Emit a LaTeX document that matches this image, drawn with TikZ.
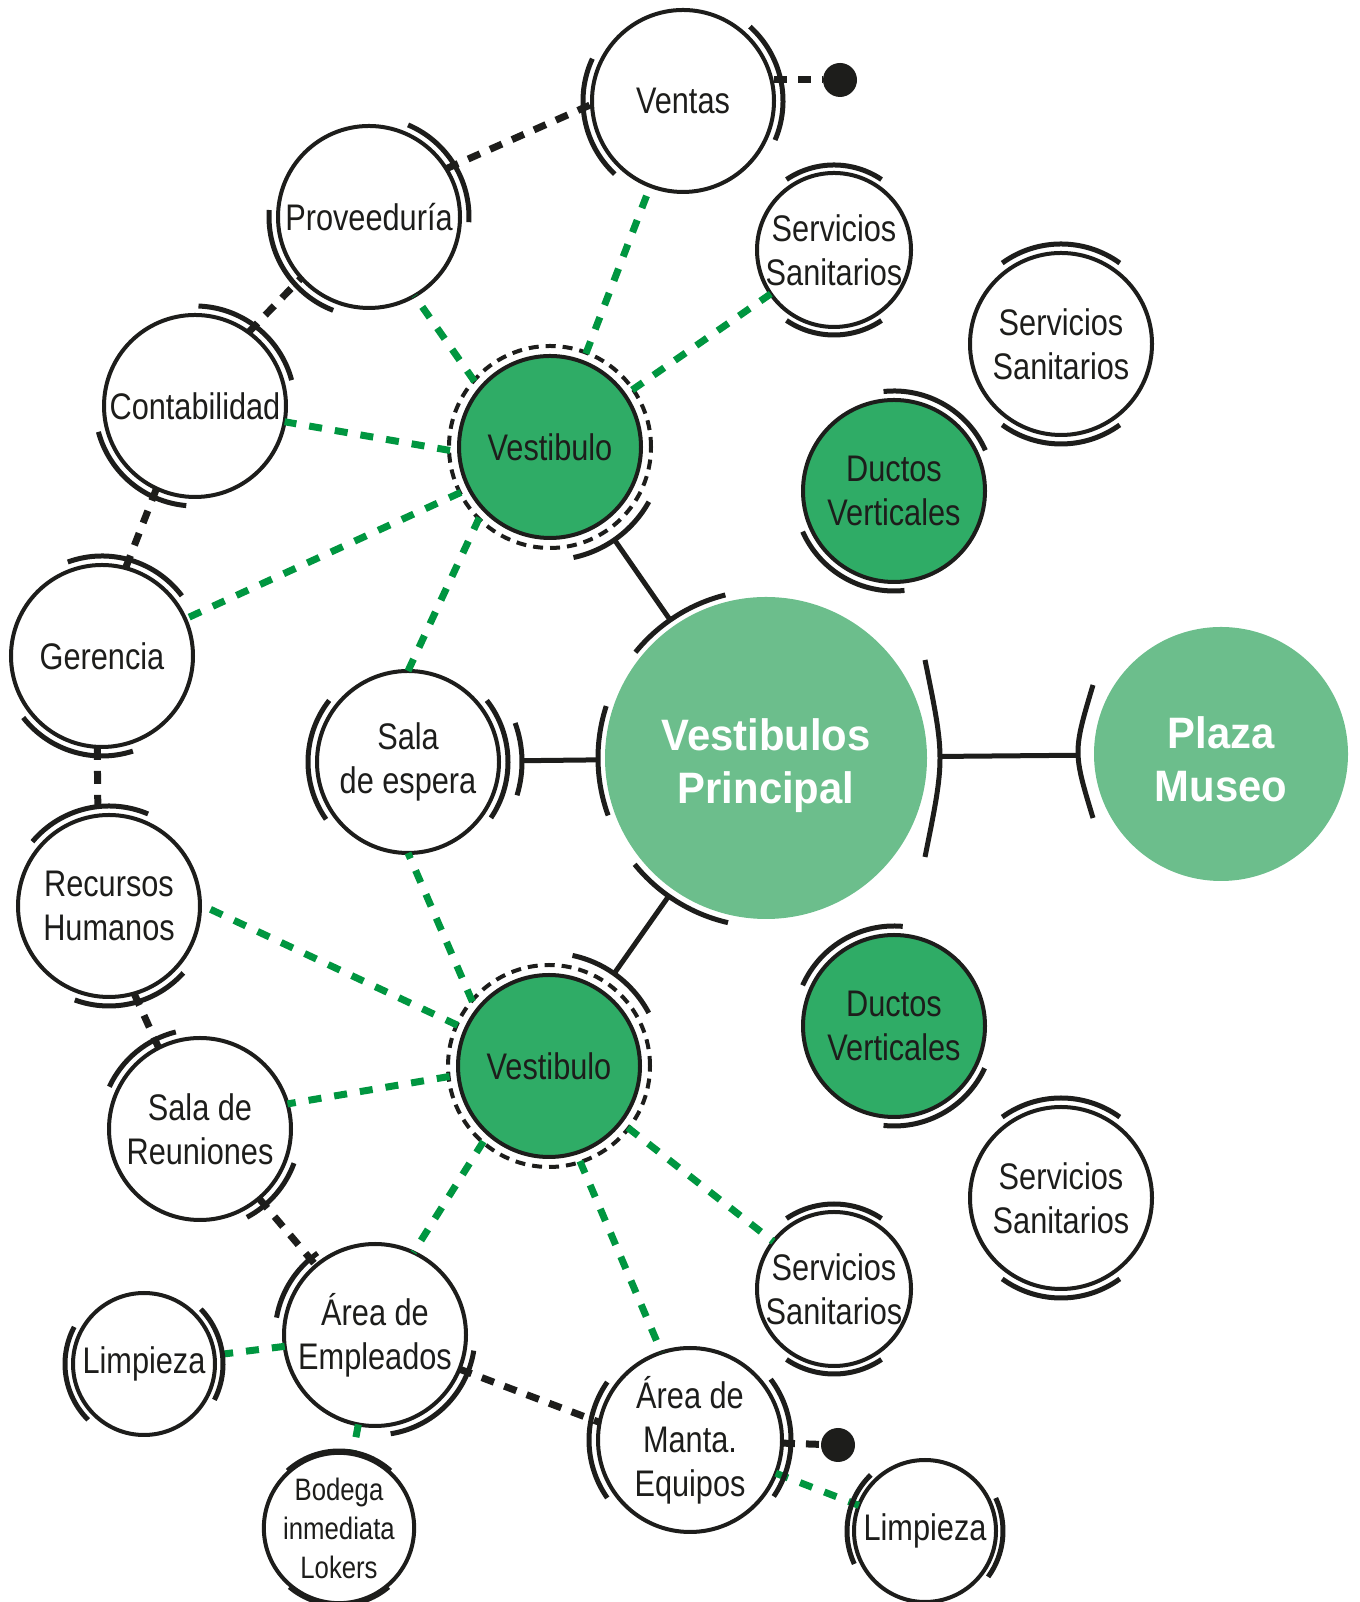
\documentclass[tikz,border=0pt]{standalone}
\usepackage{fontspec}
\setmainfont{Liberation Sans}[FakeStretch=0.83]
\newfontfamily\titfont{Liberation Sans}[FakeStretch=0.95]
\usetikzlibrary{arrows.meta}

\definecolor{linea}{HTML}{1D1D1B}
\definecolor{verdeosc}{HTML}{2FAC66}
\definecolor{verdecl}{HTML}{6CBE8C}
\definecolor{verdelin}{HTML}{009640}

% arc beside a room: node, radius, start angle, end angle
\newcommand{\doorarc}[4]{%
  \draw[door] (#1.center) ++(#3:#2) arc[start angle=#3, end angle=#4, radius=#2];}

\begin{document}
\begin{tikzpicture}[
    x=1pt, y=1pt,
    every node/.style={font=\fontsize{37}{44}\selectfont, text=linea, align=center},
    salon/.style={
        circle,
        draw=linea,
        line width=4pt,
        fill=white,
        minimum size=182pt,
        inner sep=0pt,
        outer sep=0pt
    },
    salonsm/.style={salon, minimum size=152pt},
    verde/.style={salon, fill=verdeosc},
    vestib/.style={salon, fill=verdeosc, outer sep=9pt},
    principal/.style={circle, fill=verdecl, inner sep=0pt, outer sep=0pt},
    titulo/.style={text=white, font=\titfont\bfseries\fontsize{44}{53}\selectfont},
    punto/.style={circle, fill=linea, minimum size=34pt, inner sep=0pt, outer sep=0pt},
    door/.style={draw=linea, line width=5pt},
    ring/.style={draw=linea, line width=4pt, dash pattern=on 10pt off 7pt},
    greenlink/.style={draw=verdelin, line width=7pt, dash pattern=on 13pt off 13pt},
    blacklink/.style={draw=linea, line width=7pt, dash pattern=on 13pt off 11pt},
    solidlink/.style={draw=linea, line width=5pt}
]
\useasboundingbox (0,0) rectangle (1359,1602);

% main halls
\node[principal, minimum size=322pt] (vprin) at (766,844) {};
\node[titulo] (vprintxt) at ([yshift=-8pt]vprin.center) {Vestibulos\\Principal};
\node[principal, minimum size=254pt] (plaza) at (1221,848) {};
\node[titulo] (plazatxt) at ([yshift=-5pt]plaza.center) {Plaza\\Museo};

\node[vestib] (vestA) at (550,1155) {Vestibulo};
\node[vestib] (vestB) at (549,536) {Vestibulo};
\draw[ring] (vestA.center) circle[radius=101];
\draw[ring] (vestB.center) circle[radius=101];

% rooms
\node[salon] (ventas) at (683,1501) {Ventas};
\node[salon] (prov) at (369,1385) {Proveeduría};
\node[salon] (conta) at (195,1196) {Contabilidad};
\node[salon] (geren) at (102,946) {Gerencia};
\node[salon] (rrhh) at (109,696) {Recursos\\Humanos};
\node[salon] (reun) at (200,473) {Sala de\\Reuniones};
\node[salon] (emple) at (375,267) {Área de\\Empleados};
\node[salon, minimum size=142pt] (limpA) at (144,238) {Limpieza};
\node[salon, minimum size=138pt, font=\fontsize{31}{39}\selectfont] (bodega) at (339,74) {Bodega\\inmediata\\Lokers};
\node[salon, minimum size=184pt] (manta) at (690,162) {Área de\\Manta.\\Equipos};
\node[salon, minimum size=142pt] (limpB) at (925,71) {Limpieza};
\node[salon] (espera) at (408,840) {Sala\\de espera};

\node[salonsm] (sanA) at (834,1352) {Servicios\\Sanitarios};
\node[salon] (sanB) at (1061,1258) {Servicios\\Sanitarios};
\node[salonsm] (sanC) at (834,313) {Servicios\\Sanitarios};
\node[salon] (sanD) at (1061,404) {Servicios\\Sanitarios};

\node[verde] (ductA) at (894,1111) {Ductos\\Verticales};
\node[verde] (ductB) at (894,576) {Ductos\\Verticales};

\node[punto] (dotA) at (840,1522) {};
\node[punto] (dotB) at (838,157) {};

% green links
\draw[greenlink] (vestA) -- (ventas);
\draw[greenlink] (vestA.139) -- (prov.300);
\draw[greenlink] (vestA) -- (sanA);
\draw[greenlink] (vestA.182) -- (conta.-10);
\draw[greenlink] (vestA.207) -- (geren.24);
\draw[greenlink] (vestA.225) -- (espera.north);
\draw[greenlink] (vestB.140) -- (espera.south);
\draw[greenlink] (vestB.156) -- (rrhh.1);
\draw[greenlink] (vestB.186) -- (reun.16);
\draw[greenlink] (vestB.229) -- (emple.65);
\draw[greenlink] (vestB.288) -- (manta.108);
\draw[greenlink] (vestB) -- (sanC);
\draw[greenlink] (emple) -- (limpA);
\draw[greenlink] (emple) -- (bodega);
\draw[greenlink] (manta) -- (limpB);

% black links
\draw[blacklink] (ventas.east |- dotA) -- (dotA);
\draw[blacklink] (prov.32) -- (ventas.182);
\draw[blacklink] (conta.54) -- (prov.222);
\draw[blacklink] (conta.245) -- (geren.75);
\draw[blacklink] (geren.267) -- (rrhh.97);
\draw[blacklink] (rrhh.286) -- (reun.117);
\draw[blacklink] (reun) -- (emple);
\draw[blacklink] (emple.-22) -- (manta.169);
\draw[blacklink] (manta) -- (dotB);

% solid links
\draw[solidlink, shorten <=12pt, shorten >=7pt] (vestA) -- (vprin);
\draw[solidlink, shorten <=12pt, shorten >=8pt] (vestB) -- (vprin);
\draw[solidlink, shorten <=23pt, shorten >=7pt] (espera) -- (vprin);
\draw[solidlink, shorten <=13pt, shorten >=16pt] (vprin) -- (plaza);

% arcs
\doorarc{ventas}{100}{155}{227}
\doorarc{ventas}{100}{-23}{48}
\doorarc{prov}{100}{-3}{67}
\doorarc{prov}{100}{176}{249}
\doorarc{conta}{100}{15}{88}
\doorarc{conta}{100}{195}{265}
\doorarc{geren}{100}{37}{110}
\doorarc{geren}{100}{218}{288}
\doorarc{rrhh}{100}{67}{140}
\doorarc{rrhh}{100}{250}{318}
\doorarc{reun}{100}{104}{155}
\doorarc{reun}{100}{-62}{-20}
\doorarc{emple}{100}{125}{170}
\doorarc{emple}{100}{-81}{-9}
\doorarc{limpA}{79}{152}{225}
\doorarc{limpA}{79}{-27}{44}
\doorarc{bodega}{77}{48}{132}
\doorarc{bodega}{77}{230}{310}
\doorarc{manta}{101}{145}{215}
\doorarc{manta}{101}{-34}{37}
\doorarc{limpB}{78}{134}{205}
\doorarc{limpB}{78}{-36}{25}
\doorarc{sanA}{85}{56}{124}
\doorarc{sanA}{85}{236}{304}
\doorarc{sanC}{85}{56}{124}
\doorarc{sanC}{85}{236}{304}
\doorarc{sanB}{100}{54}{126}
\doorarc{sanB}{100}{234}{306}
\doorarc{sanD}{100}{54}{126}
\doorarc{sanD}{100}{234}{306}
\doorarc{ductA}{100}{24}{96}
\doorarc{ductA}{100}{204}{276}
\doorarc{ductB}{100}{85}{156}
\doorarc{ductB}{100}{-96}{-25}
\doorarc{espera}{100}{142}{215}
\doorarc{espera}{100}{-34}{38}
\doorarc{espera}{114}{-17}{20}
\doorarc{vestA}{113}{-78}{-29}
\doorarc{vestB}{113}{28}{78}
\doorarc{vprin}{168}{162}{200}
\doorarc{vprin}{168}{104}{141}
\doorarc{vprin}{169}{219}{257}
\draw[door] (925,942) .. controls (945,844) .. (925,745);
\draw[door] (1093,917) .. controls (1073,850) .. (1093,784);

\end{tikzpicture}
\end{document}
